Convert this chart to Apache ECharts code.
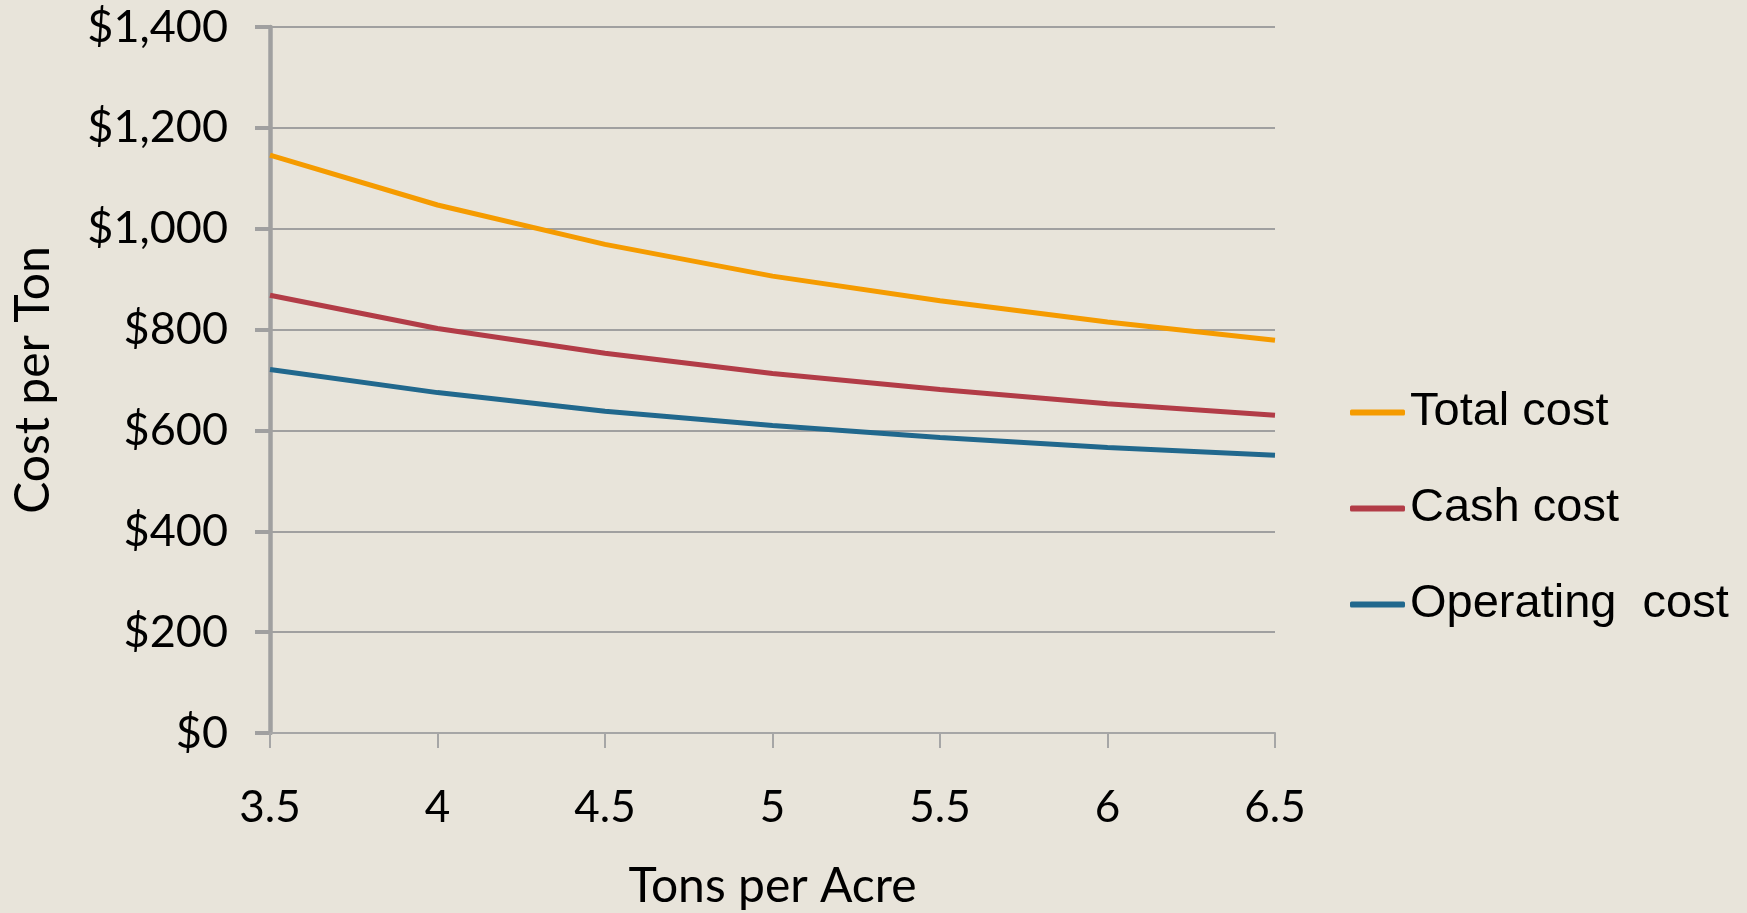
<!DOCTYPE html>
<html>
<head>
<meta charset="utf-8">
<script src="https://cdn.jsdelivr.net/npm/echarts@6/dist/echarts.min.js"></script>
<style>
html,body{margin:0;padding:0;background:#E8E4DA;}
#chart{width:1747px;height:913px;}
</style>
</head>
<body>
<div id="chart"></div>
<script>
const categories = ['3.5', '4', '4.5', '5', '5.5', '6', '6.5'];
const totalCost = [1146, 1047, 969, 906, 857, 815, 779];
const cashCost = [868, 802, 753, 713, 681, 653, 630];
const operatingCost = [721, 675, 638, 610, 586, 566, 551];
const seriesNames = ['Total cost', 'Cash cost', 'Operating  cost'];
const colors = ['#F59B00', '#B23C47', '#21688D'];

const chart = echarts.init(document.getElementById('chart'));
const seriesData = [totalCost, cashCost, operatingCost];
chart.setOption({
  backgroundColor: '#E8E4DA',
  animation: false,
  grid: { left: 270, right: 472, top: 27, bottom: 180, containLabel: false, outerBoundsMode: 'none' },
  legend: {
    orient: 'vertical',
    left: 1350,
    top: 389,
    padding: 0,
    icon: 'roundRect',
    itemWidth: 55,
    itemHeight: 6,
    itemGap: 49,
    textStyle: { fontFamily: 'Liberation Sans', fontSize: 47, color: '#000', lineHeight: 46 },
    data: seriesNames
  },
  xAxis: {
    type: 'category',
    data: categories,
    boundaryGap: false,
    name: 'Tons per Acre',
    nameLocation: 'middle',
    nameGap: 130,
    nameTextStyle: { fontFamily: 'Lato', fontSize: 48, color: '#000' },
    axisLine: { show: true, lineStyle: { color: '#A6A6A6', width: 2 } },
    axisTick: { show: true, alignWithLabel: true, length: 15, lineStyle: { color: '#A6A6A6', width: 2 } },
    axisLabel: { fontFamily: 'Lato', fontSize: 44, color: '#000', margin: 53 },
    splitLine: { show: false }
  },
  yAxis: {
    type: 'value',
    min: 0,
    max: 1400,
    interval: 200,
    name: 'Cost per Ton',
    nameLocation: 'middle',
    nameRotate: 90,
    nameGap: 212,
    nameTextStyle: { fontFamily: 'Lato', fontSize: 48, color: '#000' },
    axisLine: { show: true, lineStyle: { color: '#A0A0A0', width: 4.5 } },
    axisTick: { show: true, length: 15, lineStyle: { color: '#A0A0A0', width: 4 } },
    axisLabel: {
      fontFamily: 'Lato', fontSize: 45, color: '#000', margin: 42,
      formatter: v => '$' + v.toLocaleString('en-US')
    },
    splitLine: { show: true, lineStyle: { color: '#A0A0A0', width: 2 } }
  },
  series: seriesNames.map((n, i) => ({
    name: n,
    type: 'line',
    data: seriesData[i],
    symbol: 'none',
    color: colors[i],
    lineStyle: { width: 5, color: colors[i] }
  }))
});
</script>
</body>
</html>
